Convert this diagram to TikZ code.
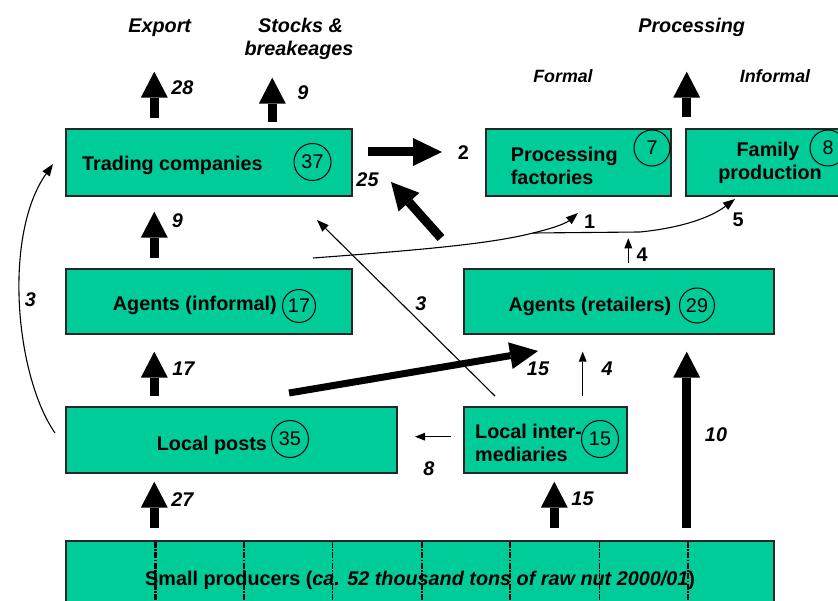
\documentclass[tikz,border=0pt]{standalone}
\usepackage{fontspec}
\setmainfont{Liberation Sans}
\usetikzlibrary{arrows.meta}
\definecolor{boxgreen}{HTML}{00CC99}
\begin{document}
\begin{tikzpicture}[x=1pt,y=-1pt,
  box/.style={draw=black!85,line width=1.1pt,fill=boxgreen,inner sep=0pt},
  txt/.style={inner sep=0pt,font=\fontsize{19.8}{23}\selectfont\bfseries},
  itl/.style={inner sep=0pt,font=\fontsize{19.8}{23}\selectfont\bfseries\itshape},
  sub/.style={inner sep=0pt,font=\fontsize{17.8}{21}\selectfont\bfseries\itshape},
  num/.style={circle,draw,line width=1pt,inner sep=0pt,minimum size=36pt,font=\fontsize{19.8}{23}\selectfont},
  blk/.style={line width=9pt,-{Triangle[width=27pt,length=26pt,line width=0pt]}},
  thinarr/.style={line width=1pt,-{Triangle[width=8pt,length=10pt,line width=0pt]}},
  midarr/.style={line width=1.1pt,-{Triangle[width=9pt,length=12pt,line width=0pt]}},
  sep/.style={line width=2.2pt,dash pattern=on 6pt off 1.5pt on 1.5pt off 1.5pt},
  septhin/.style={line width=1pt,dash pattern=on 6pt off 1.5pt on 1.5pt off 1.5pt},
]
\useasboundingbox (0,0) rectangle (838,601);
\clip (0,0) rectangle (838,601);

% boxes
\node[box,minimum width=286pt,minimum height=67pt] (tc) at (209,162.5) {};
\node[box,minimum width=286pt,minimum height=65pt] (ai) at (209,301.5) {};
\node[box,minimum width=331pt,minimum height=66pt] (lp) at (231.5,440) {};
\node[box,minimum width=708pt,minimum height=79pt] (sp) at (420,580.5) {};
\node[box,minimum width=310pt,minimum height=65pt] (ar) at (619,301.5) {};
\node[box,minimum width=163pt,minimum height=66pt] (li) at (545.5,440) {};
\node[box,minimum width=185pt,minimum height=67pt] (pf) at (578.5,162.5) {};
\node[box,minimum width=174pt,minimum height=67pt] (fp) at (773,162.5) {};

% separators in small producers box
\foreach \xx in {155.5,244.2,421.6,510.3,687.7}
  \draw[sep] (\xx,541.5) -- (\xx,610);
\foreach \xx in {332.9,599}
  \draw[septhin] (\xx,541.5) -- (\xx,610);

% box texts
\node[txt,anchor=base west] (ttc) at (82,171) {Trading companies};
\node[txt,anchor=base west] (tai) at (112.7,310.7) {Agents (informal)};
\node[txt,anchor=base west] (tlp) at (156.7,450) {Local posts};
\node[txt,anchor=base west] (tar) at (508.3,311.7) {Agents (retailers)};
\node[txt,anchor=base west] (tli1) at (475,438.3) {Local inter-};
\node[txt,anchor=base west] (tli2) at (475,461.7) {mediaries};
\node[txt,anchor=base west] (tpf1) at (510.7,161.7) {Processing};
\node[txt,anchor=base west] (tpf2) at (510.7,184.3) {factories};
\node[txt,anchor=base] (tfp1) at (768,156.7) {Family};
\node[txt,anchor=base] (tfp2) at (770,180) {production};
\node[txt,anchor=base west] (tsp) at (145,585) {Small producers (\textit{ca. 52 thousand tons of raw nut 2000/01})};

% circled numbers
\node[num,minimum size=37pt] (c37) at (312.5,162) {37};
\node[num] (c7) at (652,148) {7};
\node[num] (c8) at (828,148) {8};
\node[num,minimum size=33pt] (c17) at (299,306) {17};
\node[num,minimum size=35pt] (c29) at (697,305.5) {29};
\node[num,minimum size=37pt] (c35) at (290,439) {35};
\node[num,minimum size=37pt] (c15) at (600,439) {15};

% headings
\node[itl,anchor=base] (hexp) at (159.7,33) {Export};
\node[itl,anchor=base] (hst1) at (300.5,33) {Stocks \&};
\node[itl,anchor=base] (hst2) at (299,56) {breakeages};
\node[itl,anchor=base] (hpro) at (691.7,33) {Processing};
\node[sub,anchor=base] (hfor) at (563,83) {Formal};
\node[sub,anchor=base] (hinf) at (775,83) {Informal};

% coordinates for arrows
\coordinate (a28s) at (154.3,117.7); \coordinate (a28e) at (154.3,71.7);
\coordinate (a9ss) at (272.3,121.7); \coordinate (a9se) at (272.3,77.7);
\coordinate (aprs) at (686.7,117.3); \coordinate (apre) at (686.7,71.7);
\coordinate (a9s) at (154.3,257.7); \coordinate (a9e) at (154.3,211.7);
\coordinate (a17s) at (154.3,395.7); \coordinate (a17e) at (154.3,351.7);
\coordinate (a27s) at (154.3,527.7); \coordinate (a27e) at (154.3,481.7);
\coordinate (a15s) at (554.3,527.7); \coordinate (a15e) at (554.3,481.7);
\coordinate (a10s) at (686.7,527.7); \coordinate (a10e) at (686.7,351.7);
\coordinate (a2s) at (368,152); \coordinate (a2e) at (442,152);
\coordinate (a25s) at (441,238); \coordinate (a25e) at (391,182);
\coordinate (ad15s) at (289,393); \coordinate (ad15e) at (538,351);
\coordinate (a4s) at (582.7,396); \coordinate (a4e) at (582.7,351.7);
\coordinate (a4us) at (628.3,263); \coordinate (a4ue) at (628.3,238.3);
\coordinate (a8s) at (451,436.7); \coordinate (a8e) at (415,436.7);
\coordinate (a3s) at (495,396); \coordinate (a3e) at (317,220);
\coordinate (c3s) at (55,433); \coordinate (c3e) at (53,164);
\coordinate (wS) at (313,258); \coordinate (wB) at (533,233);
\coordinate (w1) at (578,213); \coordinate (w5) at (735,199);

% block arrows
\draw[blk] (a28s) -- (a28e);
\draw[blk] (a9ss) -- (a9se);
\draw[blk] (aprs) -- (apre);
\draw[blk] (a9s) -- (a9e);
\draw[blk] (a17s) -- (a17e);
\draw[blk] (a27s) -- (a27e);
\draw[blk] (a15s) -- (a15e);
\draw[blk] (a10s) -- (a10e);
\draw[line width=9pt,-{Triangle[width=28pt,length=29pt,line width=0pt]}] (a2s) -- (a2e);
\draw[line width=9pt,-{Triangle[width=28pt,length=27pt,line width=0pt]}] (a25s) -- (a25e);
\draw[line width=7pt,-{Triangle[width=27pt,length=28pt,line width=0pt]}] (ad15s) -- (ad15e);

% thin arrows
\draw[thinarr] (a4s) -- (a4e);
\draw[thinarr] (a4us) -- (a4ue);
\draw[thinarr] (a8s) -- (a8e);
\draw[midarr] (a3s) -- (a3e);
\draw[midarr] (c3s) .. controls (15,375) and (3,235) .. (c3e);
\draw[midarr] (wS) .. controls (420,250) and (490,244) .. (wB) .. controls (550,229) and (565,224) .. (w1);
\draw[midarr] (wB) -- (640,232) .. controls (680,228) and (710,218) .. (w5);

% flow labels
\node[itl,anchor=base] (l28) at (182.5,95) {28};
\node[itl,anchor=base] (l9s) at (303,100) {9};
\node[itl,anchor=base] (l9) at (177.5,228) {9};
\node[itl,anchor=base] (l17) at (183.5,376) {17};
\node[itl,anchor=base] (l27) at (182.5,506) {27};
\node[itl,anchor=base] (l3a) at (30.5,306.7) {3};
\node[itl,anchor=base] (l3b) at (421,310.7) {3};
\node[itl,anchor=base] (l15a) at (538,376) {15};
\node[itl,anchor=base] (l4a) at (607,376) {4};
\node[itl,anchor=base] (l10) at (716,441.7) {10};
\node[itl,anchor=base] (l8) at (429,475) {8};
\node[itl,anchor=base] (l15b) at (582.5,505) {15};
\node[itl,anchor=base] (l25) at (367.5,186.7) {25};
\node[txt,anchor=base] (l2) at (463.5,160) {2};
\node[txt,anchor=base] (l1) at (589.5,228.3) {1};
\node[txt,anchor=base] (l5) at (738,226.7) {5};
\node[txt,anchor=base] (l4b) at (642,261.7) {4};
\end{tikzpicture}
\end{document}
